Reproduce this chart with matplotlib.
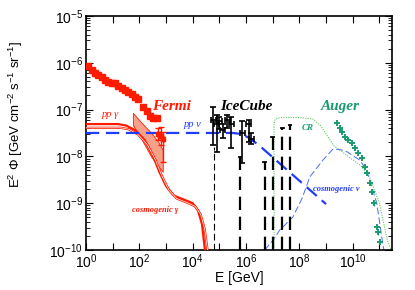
import numpy as np
import matplotlib
matplotlib.use("Agg")
import matplotlib.pyplot as plt
from matplotlib.ticker import LogLocator, NullFormatter

plt.rcParams['font.family'] = ['Liberation Sans', 'DejaVu Sans']
plt.rcParams['mathtext.default'] = 'regular'

RED = '#ff1a00'
BLUE = '#1f3cff'
LBLUE = '#4a6cff'
GREEN = '#1b9a72'
LGREEN = '#5fc85a'

# ---- data (log10 E [GeV], log10 E^2 Phi) ----
fermi_logE = [0.07, 0.22, 0.34, 0.45, 0.6, 0.71, 0.82, 0.97, 1.09, 1.2, 1.35,
              1.46, 1.57, 1.72, 1.84, 1.95, 2.13, 2.28, 2.4, 2.51, 2.66]
fermi_logF = [-6.07, -6.15, -6.21, -6.26, -6.3, -6.37, -6.41, -6.43, -6.44, -6.5, -6.54,
              -6.58, -6.62, -6.67, -6.73, -6.77, -6.94, -7.03, -7.14, -7.17, -7.17]

fermi2_logE = [2.72, 2.8, 2.88]
fermi2_logF = [-7.52, -7.56, -7.62]
fermi2_up = [0.12, 0.18, 0.14]
fermi2_dn = [0.12, 0.2, 0.5]

band_logE = [1.76, 2.1, 2.45, 2.7, 2.88]
band_hi = [-7.07, -7.29, -7.5, -7.68, -7.86]
band_lo = [-7.33, -7.65, -8.01, -8.2, -8.33]

ppg_logE = [0, 1.2, 1.5, 1.85, 2.2, 2.5, 2.75, 3.0, 3.3, 3.7, 4.0, 4.2, 4.35, 4.47]
ppg_logF = [-7.31, -7.31, -7.34, -7.44, -7.65, -7.97, -8.33, -8.63, -8.84, -8.93, -9.0, -9.15, -9.45, -10.05]

cosg_logE = [0, 1.3, 1.6, 1.95, 2.3, 2.6, 2.85, 3.1, 3.4, 3.8, 4.1, 4.3, 4.45, 4.57]
cosg_logF = [-7.39, -7.39, -7.42, -7.53, -7.75, -8.07, -8.42, -8.71, -8.9, -8.99, -9.07, -9.24, -9.55, -10.05]

ppn_logE = [0, 5.5, 5.8, 6.1, 6.5, 7.0, 7.5, 8.0, 8.5, 9.0]
ppn_logF = [-7.5, -7.5, -7.52, -7.6, -7.77, -8.02, -8.27, -8.52, -8.77, -9.02]

cosn_logE = [6.7, 7.0, 7.27, 7.75, 8.1, 8.39, 8.88, 9.25, 9.5, 9.78, 10.26, 10.52, 10.9, 11.12, 11.2]
cosn_logF = [-10.0, -9.8, -9.57, -9.3, -8.9, -8.44, -8.08, -7.85, -7.85, -7.9, -8.08, -8.29, -9.0, -9.85, -10.1]

cr_logE = [7.05, 7.05, 7.1, 7.3, 8.0, 8.5, 8.8, 9.3, 9.9, 10.3, 10.6, 11.0, 11.3, 11.47]
cr_logF = [-10.0, -7.3, -7.2, -7.17, -7.17, -7.2, -7.35, -7.78, -8.03, -8.2, -8.4, -9.0, -9.8, -10.05]

auger_logE = [9.4, 9.51, 9.59, 9.7, 9.81, 9.96, 10.07, 10.19, 10.34, 10.45, 10.52,
              10.64, 10.71, 10.79, 10.9, 10.94, 11.01]
auger_logF = [-7.29, -7.39, -7.48, -7.59, -7.65, -7.71, -7.82, -7.93, -8.03, -8.23, -8.35,
              -8.57, -8.76, -9.0, -9.51, -9.62, -9.83]

ice_logE = [4.78, 4.9, 5.0, 5.13, 5.3, 5.45, 5.86, 6.1, 6.2]
ice_logF = [-7.22, -7.3, -7.25, -7.44, -7.22, -7.3, -7.5, -7.3, -7.62]
ice_up = [0.28, 0.18, 0.1, 0.14, 0.1, 0.15, 0.25, 0.08, 0.12]
ice_dn = [0.54, 0.6, 0.17, 0.16, 0.18, 0.52, 0.65, 0.4, 0.12]

ice_ul_logE = [4.8, 5.77, 6.7, 7.0, 7.36, 7.65]
ice_ul_top = [-7.8, -8.01, -8.12, -7.59, -7.39, -7.33]
ice_ul_thick = [0.8, 1.6, 1.6, 1.6, 1.6, 1.6]


def p(a):
    return 10 ** np.asarray(a, dtype=float)


fig = plt.figure(figsize=(4.15, 2.9), dpi=100)
ax = fig.add_axes([0.207, 0.138, 0.738, 0.807])
ax.set_xscale('log')
ax.set_yscale('log')

# Fermi band + points
ax.fill_between(p(band_logE), p(band_lo), p(band_hi), facecolor='#f7a08a',
                edgecolor=RED, lw=0.6, zorder=2)
ax.errorbar(p(fermi_logE), p(fermi_logF),
            yerr=[p(fermi_logF) * (1 - 10 ** -0.04), p(fermi_logF) * (10 ** 0.04 - 1)],
            fmt='s', ms=4.2, color=RED, mec=RED, ecolor='#ffb0a0', elinewidth=0.5, zorder=4)
f2 = p(fermi2_logF)
ax.errorbar(p(fermi2_logE), f2,
            yerr=[f2 - p(np.add(fermi2_logF, np.negative(fermi2_dn))), p(np.add(fermi2_logF, fermi2_up)) - f2],
            xerr=[p(fermi2_logE) * (1 - 10 ** -0.05), p(fermi2_logE) * (10 ** 0.05 - 1)],
            fmt='s', ms=3, color=RED, elinewidth=1.0, capsize=2.5, zorder=4)

# pp gamma and cosmogenic gamma
ax.plot(p(ppg_logE), p(ppg_logF), color=RED, lw=1.6, zorder=3)
ax.plot(p(cosg_logE), p(cosg_logF), color=RED, lw=1.6, zorder=3)
ax.plot(p(cosg_logE), p(cosg_logF), color='white', lw=0.5, zorder=3)

# pp nu
ax.plot(p(ppn_logE), p(ppn_logF), color=BLUE, lw=1.6, dashes=(6, 3), zorder=3)
# cosmogenic nu
ax.plot(p(cosn_logE), p(cosn_logF), color=LBLUE, lw=0.7, dashes=(7, 3), zorder=2)
# CR
ax.plot(p(cr_logE), p(cr_logF), color=LGREEN, lw=0.8, ls=(0, (1, 1.2)), zorder=2)

# IceCube: errors reaching zero drawn as dashed lines
for e, top, w in zip(ice_ul_logE, ice_ul_top, ice_ul_thick):
    ax.plot([p(e), p(e)], [1e-10, p(top)], color='black', lw=w, dashes=(6, 3), zorder=3)
    if w > 1:
        ax.plot([p(e - 0.05), p(e + 0.05)], [p(top), p(top)], color='black', lw=1.3, zorder=3)
fi = p(ice_logF)
ax.errorbar(p(ice_logE), fi,
            yerr=[fi - p(np.subtract(ice_logF, ice_dn)), p(np.add(ice_logF, ice_up)) - fi],
            xerr=[p(ice_logE) * (1 - 10 ** -0.1), p(ice_logE) * (10 ** 0.1 - 1)],
            fmt='none', ecolor='black', elinewidth=1.2, capsize=2.5, capthick=1.2, zorder=4)

# Auger
fa = p(auger_logF)
ax.errorbar(p(auger_logE), fa, yerr=[fa * (1 - 10 ** -0.05), fa * (10 ** 0.05 - 1)],
            fmt='+', ms=5, mew=1.4, color=GREEN, elinewidth=0.8, zorder=4)

# labels
serif = ['Liberation Serif', 'DejaVu Serif']
ax.text(p(3.2), p(-6.94), 'Fermi', color=RED, family=serif, style='italic', weight='bold',
        fontsize=11, ha='center', va='center')
ax.text(p(0.9), p(-7.1), 'pp \u03b3', color=RED, family=serif, style='italic',
        fontsize=7.5, ha='center', va='center')
ax.text(p(4.0), p(-7.32), 'pp \u03bd', color=BLUE, family=serif, style='italic',
        fontsize=7.5, ha='center', va='center')
ax.text(p(2.58), p(-9.15), 'cosmogenic \u03b3', color=RED, family=serif, style='italic',
        weight='bold', fontsize=6, ha='center', va='center')
ax.text(p(6.03), p(-6.94), 'IceCube', color='black', family=serif, style='italic', weight='bold',
        fontsize=11, ha='center', va='center')
ax.text(p(9.53), p(-6.94), 'Auger', color=GREEN, family=serif, style='italic', weight='bold',
        fontsize=11, ha='center', va='center')
ax.text(p(8.3), p(-7.39), 'CR', color=GREEN, family=serif, style='italic', weight='bold',
        fontsize=6.5, ha='center', va='center')
ax.text(p(9.4), p(-8.69), 'cosmogenic \u03bd', color=BLUE, family=serif, style='italic',
        weight='bold', fontsize=6, ha='center', va='center')

ax.set_xlim(1, 3e11)
ax.set_ylim(1e-10, 1e-5)
ax.set_xticks([10.0 ** k for k in range(0, 12, 2)])
ax.set_xticks([10.0 ** k for k in range(1, 12, 2)], minor=True)
ax.xaxis.set_minor_formatter(NullFormatter())
ax.yaxis.set_major_locator(LogLocator(base=10, numticks=10))
ax.yaxis.set_minor_locator(LogLocator(base=10, subs=np.arange(2, 10), numticks=10))
ax.yaxis.set_minor_formatter(NullFormatter())
ax.tick_params(which='both', direction='in', top=True, right=True, labelsize=10, pad=2)
ax.tick_params(which='major', length=5, width=0.8)
ax.tick_params(which='minor', length=3, width=0.6)
ax.tick_params(axis='x', which='minor', length=5, width=0.8)
for s in ax.spines.values():
    s.set_linewidth(1.2)

ax.set_xlabel('E [GeV]', fontsize=10, labelpad=0)
ax.set_ylabel('E$^2$ \u03a6 [GeV cm$^{-2}$ s$^{-1}$ sr$^{-1}$]', fontsize=9.5, labelpad=2)
ax.yaxis.set_label_coords(-0.2, 0.58)

fig.savefig('out.png', dpi=100)
